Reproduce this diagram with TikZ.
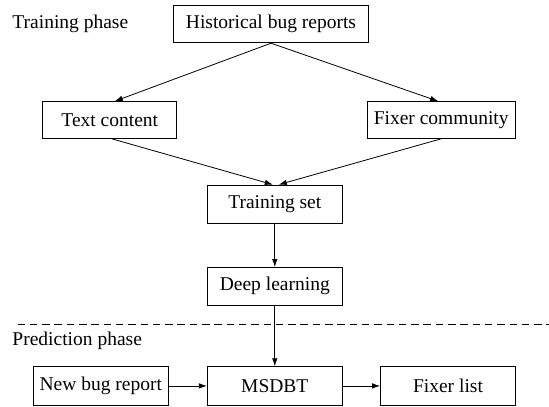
\documentclass[tikz,border=0pt]{standalone}
\usepackage{fontspec}
\setmainfont{Liberation Serif}
\usetikzlibrary{arrows.meta}
\begin{document}
\begin{tikzpicture}[x=1pt,y=-1pt,
  font=\rmfamily\fontsize{19.5}{23}\selectfont,
  box/.style={draw, line width=0.9pt, inner sep=0pt, minimum height=37.5pt, anchor=center},
  flow/.style={draw, line width=0.8pt, -{Latex[length=8pt,width=5.5pt]}},
  phase/.style={anchor=west, inner sep=0pt}]
\useasboundingbox (0,0) rectangle (549,407);

% training phase
\node[phase] (tp) at (12.3,24) {Training phase};
\node[box, minimum width=194.6pt] (hist) at (271,24) {Historical bug reports};
\node[box, minimum width=134pt, minimum height=36.7pt] (text) at (109.8,120) {Text content};
\node[box, minimum width=148.4pt, minimum height=36.7pt] (fixer) at (441.2,120) {Fixer community};
\node[box, minimum width=135pt, minimum height=38.3pt] (train) at (274.8,204.2) {Training set};
\node[box, minimum width=135pt] (deep) at (274.8,286.2) {Deep learning};

% separator between the two phases
\coordinate (sepL) at (17.5,324.7);
\coordinate (sepR) at (549,324.7);
\draw[line width=0.8pt, dash pattern=on 7.5pt off 4.8pt] (sepL) -- (sepR);

% prediction phase
\node[phase] (pp) at (12.3,341) {Prediction phase};
\node[box, minimum width=135pt, minimum height=38.3pt] (newbug) at (100.8,385.9) {New bug report};
\node[box, minimum width=135pt, minimum height=38.3pt] (msdbt) at (274.8,385.9) {MSDBT};
\node[box, minimum width=134.8pt, minimum height=38.3pt] (fixlist) at (448,385.9) {Fixer list};

% connectors
\draw[flow] (hist.south) -- ([xshift=5pt]text.north);
\draw[flow] (hist.south) -- ([xshift=-3pt]fixer.north);
\draw[flow] ([xshift=2pt]text.south) -- ([xshift=-2pt]train.north);
\draw[flow] (fixer.south) -- ([xshift=4pt]train.north);
\draw[flow] (train) -- (deep);
\draw[flow] (deep) -- (msdbt);
\draw[flow] (newbug) -- (msdbt);
\draw[flow] (msdbt) -- (fixlist);
\end{tikzpicture}
\end{document}
